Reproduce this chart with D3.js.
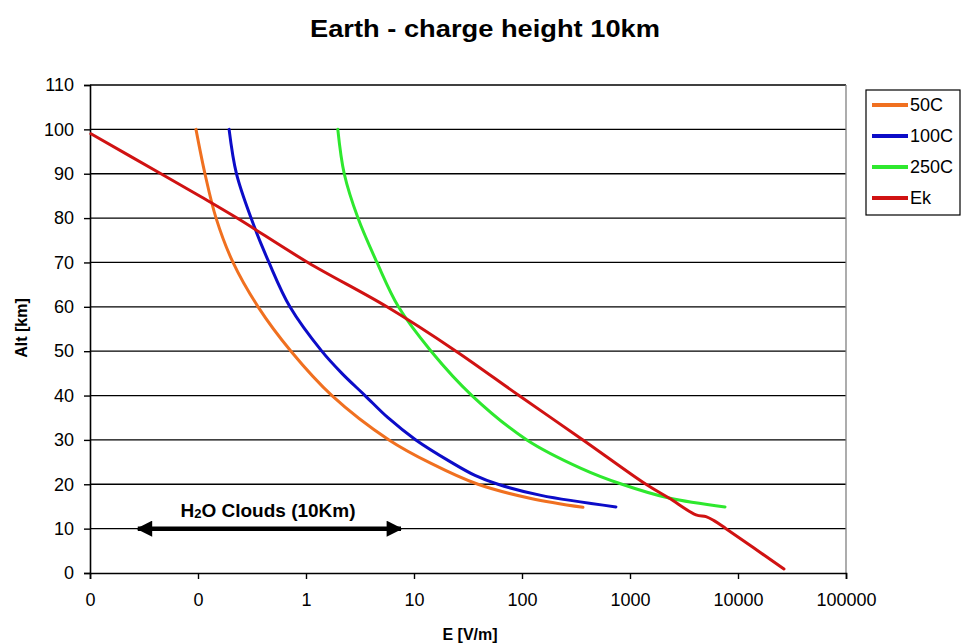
<!DOCTYPE html>
<html>
<head>
<meta charset="utf-8">
<script src="https://cdn.jsdelivr.net/npm/d3@7"></script>
<style>
  body { margin: 0; background: #fff; }
  svg { font-family: "Liberation Sans", Arial, sans-serif; }
</style>
</head>
<body>
<svg id="canvas" width="962" height="644"></svg>
<script>
// altitude [km] vs field E [V/m]
const alt50 = [100, 90, 80, 70, 60, 50, 40, 30, 24.7, 20, 16.8, 14.8]
const e50 = [0.0958, 0.116, 0.147, 0.211, 0.36, 0.726, 1.74, 5.87, 14.4, 39.1, 121, 367]

const alt100 = [100, 90, 80, 70, 60, 50, 45, 40, 35, 30, 25, 22, 20, 17.5, 14.9]
const e100 = [0.194, 0.227, 0.31, 0.454, 0.71, 1.4, 2.15, 3.52, 5.74, 10.4, 22.0, 36.7, 59.9, 150, 741]

const alt250 = [100, 90, 80, 70, 60, 50, 40, 30, 23.6, 20, 16.9, 14.9]
const e250 = [1.97, 2.26, 3.03, 4.54, 7.18, 14.4, 34.4, 111, 352, 843, 2295, 7586]

const altEk = [99, 90, 84.8, 80, 70, 60, 50, 40, 30, 20, 16.9, 13.1, 12.7, 11.8, 10, 0.9]
const eEk = [0.0102, 0.0454, 0.1066, 0.23, 1.04, 5.62, 24.5, 93.8, 367, 1406, 2295, 4085, 5055, 6000, 7744, 26650]

const seriesNames = ['50C', '100C', '250C', 'Ek']
const seriesColors = ['#F07020', '#0C0CC8', '#2EE82E', '#D01212']

const xTicks = [0.01, 0.1, 1, 10, 100, 1000, 10000, 100000]
const yTicks = [0, 10, 20, 30, 40, 50, 60, 70, 80, 90, 100, 110]

// cloud annotation: E range and altitude
const cloudE = [0.0277, 7.58]
const cloudAlt = 10

const series = [
  { alt: alt50, e: e50 },
  { alt: alt100, e: e100 },
  { alt: alt250, e: e250 },
  { alt: altEk, e: eEk }
].map((s, i) => ({
  name: seriesNames[i],
  color: seriesColors[i],
  points: s.alt.map((a, j) => ({ alt: a, e: s.e[j] }))
}))

let canvas = d3.select('#canvas')

const plotLeft = 90, plotRight = 846, plotTop = 85, plotBottom = 573

let xScale = d3.scaleLog()
  .domain([0.01, 100000])
  .range([plotLeft, plotRight])

let yScale = d3.scaleLinear()
  .domain([0, 110])
  .range([plotBottom, plotTop])

// title
canvas.append('text')
  .attr('x', 485)
  .attr('y', 37)
  .attr('text-anchor', 'middle')
  .attr('font-size', '24px')
  .attr('font-weight', 'bold')
  .attr('textLength', 350)
  .attr('lengthAdjust', 'spacingAndGlyphs')
  .text('Earth - charge height 10km')

// gridlines
canvas.append('g')
  .selectAll('line')
  .data(yTicks.filter(d => d > 0))
  .enter()
  .append('line')
  .attr('x1', plotLeft)
  .attr('x2', plotRight)
  .attr('y1', d => yScale(d))
  .attr('y2', d => yScale(d))
  .attr('stroke', '#000')
  .attr('stroke-width', 1.3)

// right border of plot area
canvas.append('line')
  .attr('x1', plotRight).attr('x2', plotRight)
  .attr('y1', plotTop).attr('y2', plotBottom)
  .attr('stroke', '#808080')
  .attr('stroke-width', 1.3)

// axes
let xAxis = d3.axisBottom(xScale)
  .tickValues(xTicks)
  .tickFormat(d => d < 1 ? '0' : d3.format('d')(d))
  .tickSize(6)
  .tickPadding(14)

let yAxis = d3.axisLeft(yScale)
  .tickValues(yTicks)
  .tickSize(6)
  .tickPadding(10)

let gx = canvas.append('g')
  .attr('transform', `translate(0, ${plotBottom})`)
  .call(xAxis)

let gy = canvas.append('g')
  .attr('transform', `translate(${plotLeft}, 0)`)
  .call(yAxis)

;[gx, gy].forEach(g => {
  g.select('.domain').attr('stroke', '#000').attr('stroke-width', 1.6)
  g.selectAll('.tick line').attr('stroke', '#000').attr('stroke-width', 1.4)
  g.selectAll('.tick text')
    .attr('font-size', '18px')
    .attr('font-family', '"Liberation Sans", Arial, sans-serif')
    .attr('fill', '#000')
})

// axis titles
canvas.append('text')
  .attr('x', 470)
  .attr('y', 640)
  .attr('text-anchor', 'middle')
  .attr('font-size', '16px')
  .attr('font-weight', 'bold')
  .text('E [V/m]')

canvas.append('text')
  .attr('transform', 'translate(27, 328) rotate(-90)')
  .attr('text-anchor', 'middle')
  .attr('font-size', '16px')
  .attr('font-weight', 'bold')
  .text('Alt [km]')

// series lines
const line = d3.line()
  .x(d => xScale(d.e))
  .y(d => yScale(d.alt))
  .curve(d3.curveCatmullRom.alpha(0.5))

canvas.append('g')
  .selectAll('path')
  .data(series)
  .enter()
  .append('path')
  .attr('d', d => line(d.points))
  .attr('fill', 'none')
  .attr('stroke', d => d.color)
  .attr('stroke-width', 3)
  .attr('stroke-linejoin', 'round')
  .attr('stroke-linecap', 'round')

// cloud double arrow
const defs = canvas.append('defs')
defs.append('marker')
  .attr('id', 'head')
  .attr('viewBox', '0 0 10 10')
  .attr('refX', 9)
  .attr('refY', 5)
  .attr('markerUnits', 'userSpaceOnUse')
  .attr('markerWidth', 22)
  .attr('markerHeight', 16)
  .attr('orient', 'auto-start-reverse')
  .append('path')
  .attr('d', 'M0,0 L10,5 L0,10 Z')
  .attr('fill', '#000')

canvas.append('line')
  .attr('x1', xScale(cloudE[0]))
  .attr('x2', xScale(cloudE[1]))
  .attr('y1', yScale(cloudAlt))
  .attr('y2', yScale(cloudAlt))
  .attr('stroke', '#000')
  .attr('stroke-width', 4.5)
  .attr('marker-start', 'url(#head)')
  .attr('marker-end', 'url(#head)')

let cloudText = canvas.append('text')
  .attr('x', 268)
  .attr('y', 517)
  .attr('text-anchor', 'middle')
  .attr('font-size', '19px')
  .attr('font-weight', 'bold')
cloudText.append('tspan').text('H')
cloudText.append('tspan').attr('font-size', '13px').attr('dy', 1).text('2')
cloudText.append('tspan').attr('dy', -1).text('O Clouds (10Km)')

// legend
let legend = canvas.append('g')
legend.append('rect')
  .attr('x', 866)
  .attr('y', 90)
  .attr('width', 94)
  .attr('height', 125)
  .attr('fill', '#fff')
  .attr('stroke', '#000')
  .attr('stroke-width', 1.2)

let items = legend.selectAll('.item')
  .data(series)
  .enter()
  .append('g')
  .attr('class', 'item')
  .attr('transform', (d, i) => `translate(0, ${105 + i * 31})`)

items.append('line')
  .attr('x1', 872)
  .attr('x2', 908)
  .attr('stroke', d => d.color)
  .attr('stroke-width', 4)

items.append('text')
  .attr('x', 910)
  .attr('y', 6)
  .attr('font-size', '18px')
  .text(d => d.name)
</script>
</body>
</html>
